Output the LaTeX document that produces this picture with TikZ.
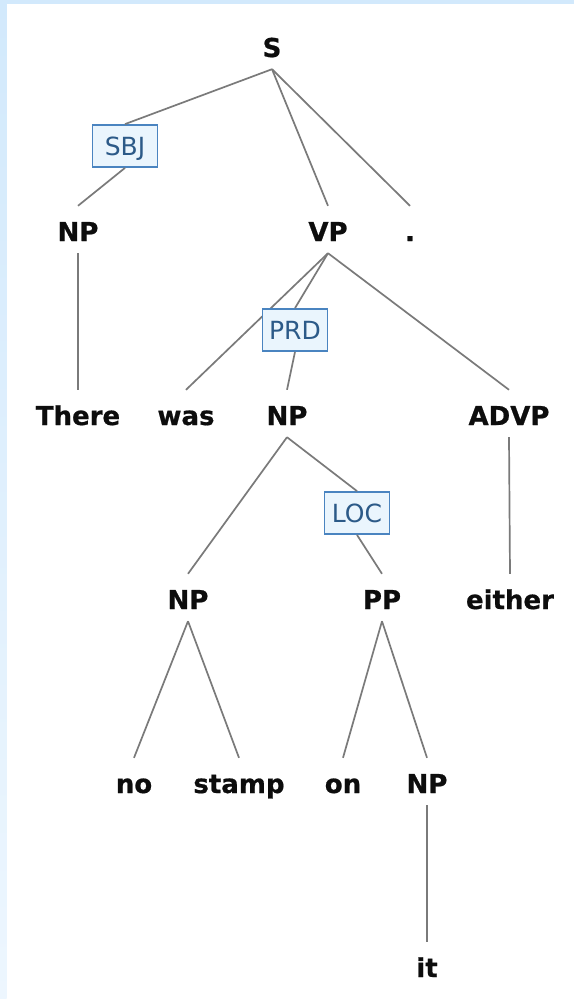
\documentclass[tikz,border=0pt]{standalone}
\usepackage{fontspec}
\setmainfont{DejaVu Sans}
\newfontfamily\treefont[FakeBold=0.7]{DejaVu Sans Bold}
\begin{document}
\begin{tikzpicture}[x=1pt,y=-1pt,
  tag/.style={anchor=base, font=\fontsize{26}{30}\treefont,
    text=black!95, text height=23pt, text depth=0pt, inner ysep=12pt, inner xsep=2pt},
  role/.style={draw=roleedge, line width=1.8pt, fill=rolefill, text=roletext,
    font=\fontsize{25}{30}\selectfont, text height=18.5pt, text depth=0pt,
    minimum width=65pt, minimum height=42pt, inner xsep=6pt},
  branch/.style={draw=black!52, line width=1.7pt}]
\definecolor{roleedge}{HTML}{4A84C0}
\definecolor{rolefill}{HTML}{EAF5FD}
\definecolor{roletext}{HTML}{2C5A88}
\definecolor{frameblue}{HTML}{D2E9FC}

% page and window frame
\useasboundingbox (0,0) rectangle (574,999);
\fill[white] (0,0) rectangle (574,999);
\shade[top color=frameblue, bottom color=frameblue!40] (0,0) rectangle (6.5,999);
\fill[frameblue] (0,0) rectangle (574,4);

% constituents (placed on their baselines)
\node[tag] (s)      at (272,57)  {S};
\node[tag] (np1)    at (78,241)  {NP};
\node[tag] (vp)     at (328,241) {VP};
\node[tag] (dot)    at (410,241) {.};
\node[tag] (there)  at (78,425)  {There};
\node[tag] (was)    at (186,425) {was};
\node[tag] (np2)    at (287,425) {NP};
\node[tag] (advp)   at (509,425) {ADVP};
\node[tag] (np3)    at (188,609) {NP};
\node[tag] (pp)     at (382,609) {PP};
\node[tag] (either) at (510,609) {either};
\node[tag] (no)     at (134,793) {no};
\node[tag] (stamp)  at (239,793) {stamp};
\node[tag] (on)     at (343,793) {on};
\node[tag] (np4)    at (427,793) {NP};
\node[tag] (it)     at (427,977) {it};

% branches
\draw[branch] (s.south) -- (vp.north);
\draw[branch] (s.south) -- (dot.north);
\draw[branch] (np1.south) -- (there.north);
\draw[branch] (vp.south) -- (was.north);
\draw[branch] (vp.south) -- (advp.north);
\draw[branch] (advp.south) -- (either.north);
\draw[branch] (np2.south) -- (np3.north);
\draw[branch] (np3.south) -- (no.north);
\draw[branch] (np3.south) -- (stamp.north);
\draw[branch] (pp.south) -- (on.north);
\draw[branch] (pp.south) -- (np4.north);
\draw[branch] (np4.south) -- (it.north);

% function labels sitting on their branches
\node[role] (sbj) at (125,146) {SBJ};
\node[role] (prd) at (295,330) {PRD};
\node[role] (loc) at (357,513) {LOC};
\draw[branch] (s.south) -- (sbj.north);
\draw[branch] (sbj.south) -- (np1.north);
\draw[branch] (vp.south) -- (prd.north);
\draw[branch] (prd.south) -- (np2.north);
\draw[branch] (np2.south) -- (loc.north);
\draw[branch] (loc.south) -- (pp.north);
\end{tikzpicture}
\end{document}
